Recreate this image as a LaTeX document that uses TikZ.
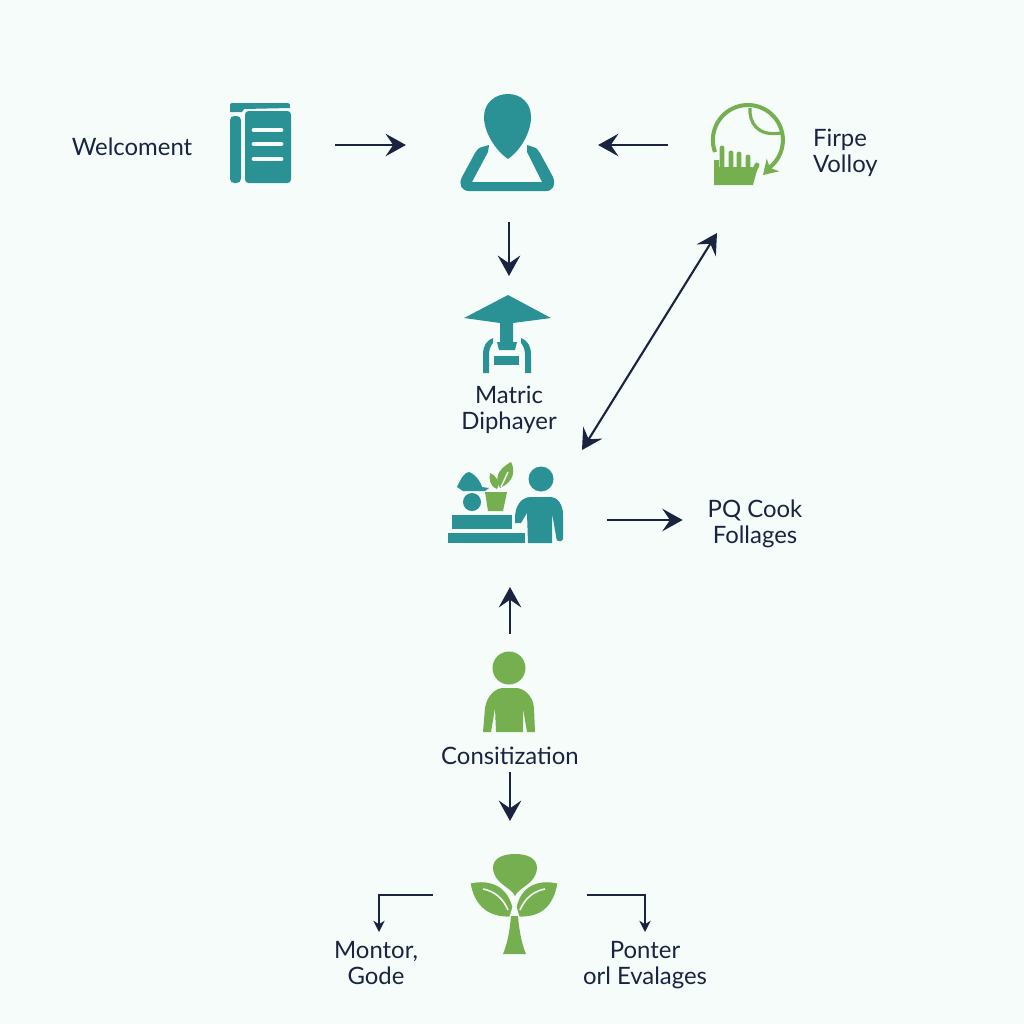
\documentclass[tikz,border=0pt]{standalone}
\usepackage{fontspec}
\setmainfont{Lato}
\usetikzlibrary{arrows.meta}
\definecolor{paper}{HTML}{F6FCFA}
\definecolor{teal}{HTML}{2A9295}
\definecolor{leaf}{HTML}{76AF4F}
\definecolor{ink}{HTML}{1A2340}
\tikzset{
	iconbox/.style={inner sep=0,outer sep=0},
	label/.style={inner sep=0,outer sep=0,text=ink,align=center,font=\fontsize{6.8}{7.45}\selectfont},
	arrow/.style={draw=ink,line width=.6pt,-{Stealth[length=5.8pt,width=6.4pt,inset=2.2pt]}},
	smallarrow/.style={draw=ink,line width=.5pt,-{Stealth[length=3.2pt,width=3.2pt,inset=1pt]}},
	twoway/.style={draw=ink,line width=.6pt,{Stealth[length=5.8pt,width=6.4pt,inset=2.2pt]}-{Stealth[length=5.8pt,width=6.4pt,inset=2.2pt]}}
}
\begin{document}
\begin{tikzpicture}[x=0.01cm,y=-0.01cm]
	\fill[paper] (0,0) rectangle (1024,1024);
	\useasboundingbox (0,0) rectangle (1024,1024);

	\node[iconbox,minimum width=.61cm,minimum height=.8cm] (book) at (260.5,145) {};
	\node[iconbox,minimum width=.94cm,minimum height=.98cm] (person) at (507,145) {};
	\node[iconbox,minimum width=.72cm,minimum height=.82cm] (ball) at (750,145) {};
	\node[iconbox,minimum width=.88cm,minimum height=.78cm] (hat) at (509,334) {};
	\node[iconbox,minimum width=1.16cm,minimum height=.82cm] (gardener) at (506,520) {};
	\node[iconbox,minimum width=.54cm,minimum height=.8cm] (helper) at (510,692) {};
	\node[iconbox,minimum width=.88cm,minimum height=.2cm] (tree) at (514,895) {};

	\node[label] (welcome) at (132,147) {Welcoment};
	\node[label,align=left,anchor=west] (firpe) at (813,153) {Firpe\\Volloy};
	\node[label] (matric) at (509,410) {Matric\\Diphayer};
	\node[label] (cook) at (755,524) {PQ Cook\\Follages};
	\node[label] (consit) at (510,756) {Consitization};
	\node[label] (montor) at (376,963) {Montor,\\Gode};
	\node[label] (ponter) at (645,965) {Ponter\\orl Evalages};

	\coordinate (diagLow) at (582,450);
	\coordinate (diagHigh) at (717,233);
	\coordinate (montorTop) at (379,932);
	\coordinate (ponterTop) at (645,932);

	\draw[arrow,shorten <=.44cm,shorten >=.54cm] (book.east) -- (person.west);
	\draw[arrow,shorten <=.46cm,shorten >=.44cm] (ball.west) -- (person.east);
	\draw[arrow,shorten <=.28cm,shorten >=.19cm] (person.south -| hat.north) -- (hat.north);
	\draw[arrow,shorten <=.43cm,shorten >=.25cm] (gardener.east) -- (cook.west |- gardener.east);
	\draw[arrow,shorten <=.18cm,shorten >=.26cm] (helper.north) -- (helper.north |- gardener.south);
	\draw[arrow,shorten <=.07cm,shorten >=.64cm] (consit.south) -- (consit.south |- tree.north);
	\draw[twoway] (diagLow) -- (diagHigh);
	\draw[smallarrow,shorten <=.37cm] (tree.west) -| (montorTop);
	\draw[smallarrow,shorten <=.29cm] (tree.east) -| (ponterTop);

	\fill[teal] (230,112) -- (230,105) .. controls (230,104) and (231,103) .. (232,103) -- (288,103) .. controls (290,103) and (290,105) .. (290,108) -- (244,109) -- (242,112) -- cycle;
	\fill[teal,rounded corners=1.2pt] (230,116) rectangle (241,183);
	\fill[teal,rounded corners=1pt] (245,111) rectangle (291,183);
	\draw[paper,line width=1.4pt,line cap=round] (254,130) -- (281,130) (254,144) -- (281,144) (254,159) -- (281,159);

	\fill[teal] (508,159) .. controls (495,150) and (484,132) .. (484,117) .. controls (484,103) and (495,94) .. (508,94) .. controls (521,94) and (531,103) .. (531,117) .. controls (531,132) and (521,150) .. (508,159) -- cycle;
	\fill[teal] (489,145) -- (482,147) .. controls (478,148) and (477,150) .. (475,153) -- (462,177) .. controls (458,185) and (462,191) .. (469,191) -- (546,191) .. controls (553,191) and (556,185) .. (553,177) -- (540,153) .. controls (538,150) and (537,148) .. (533,147) -- (527,145) -- (527,152) -- (542,182) -- (472,182) -- (488,152) -- cycle;

	\draw[leaf,line width=1.15pt] (715,152) arc[start angle=160,end angle=420,radius=35];
	\draw[leaf,line width=1.1pt,-{Stealth[length=4pt,width=5pt,inset=1.2pt]}] (770,168) -- (763,175);
	\draw[leaf,line width=.9pt] (750,108) .. controls (749,122) and (757,137) .. (781,133);
	\fill[leaf] (714,160) -- (719,160) -- (719,167) -- (752,167) -- (757,170) -- (753,185) -- (714,185) -- cycle;
	\draw[leaf,line width=1.4pt,line cap=round] (722,170) -- (722,148) (731,170) -- (731,153) (739,170) -- (739,154) (748,170) -- (748,157) (752,175) -- (757,165);

	\fill[teal] (508,295) -- (551,318) -- (513,323) -- (513,342) -- (517,342) -- (515,350) -- (499,350) -- (497,342) -- (500,342) -- (500,323) -- (464,318) -- cycle;
	\fill[teal] (494,356) rectangle (519,365);
	\fill[teal] (493,338) .. controls (486,341) and (483,346) .. (483,355) -- (483,373) -- (489,373) -- (489,354) .. controls (489,350) and (491,345) .. (493,343) -- cycle;
	\fill[teal] (521,338) .. controls (528,341) and (531,346) .. (531,355) -- (531,373) -- (525,373) -- (525,354) .. controls (525,350) and (523,345) .. (521,343) -- cycle;

	\fill[teal] (541,479) circle (12.5);
	\fill[teal] (528,543) -- (552,543) -- (552,513) -- (556.5,539) .. controls (557,542) and (562,542) .. (563,539) -- (563,515) .. controls (563,505) and (558,497) .. (550,497) -- (531,497) .. controls (522,497) and (515,505) .. (515,518) -- (515,523) -- (521,523) -- (527,513) -- cycle;
	\fill[teal] (452,515) rectangle (512,529);
	\fill[teal] (448,533) rectangle (525,543);
	\fill[teal] (472,502) circle (9);
	\fill[teal] (457,487) .. controls (461,478) and (465,472) .. (469,472) .. controls (475,474) and (481,482) .. (482,487) -- (489,488) -- (485,491) -- (463,491) -- cycle;
	\fill[leaf] (485,492) -- (507,492) -- (503,511) -- (488,511) -- cycle;
	\fill[leaf] (500,488) .. controls (495,480) and (496,470) .. (511,462) .. controls (516,472) and (513,482) .. (500,488) -- cycle;
	\fill[leaf] (497,489) .. controls (489,486) and (489,478) .. (490,473) .. controls (496,475) and (501,483) .. (497,489) -- cycle;
	\draw[paper,line width=.4pt] (501,487) -- (508,472);

	\fill[leaf] (509,668) circle (16.5);
	\fill[leaf] (483,732) -- (485,708) .. controls (487,695) and (496,688) .. (503,688) -- (516,688) .. controls (523,688) and (533,695) .. (534,708) -- (535,732) -- (527,732) -- (523,708) -- (523,732) -- (496,732) -- (495,708) -- (491,732) -- cycle;

	\fill[leaf] (515,896) .. controls (511,887) and (494,884) .. (493,868) .. controls (493,858) and (503,854) .. (515,854) .. controls (527,854) and (537,858) .. (537,868) .. controls (536,884) and (519,887) .. (515,896) -- cycle;
	\fill[leaf,draw=paper,line width=.3pt] (470,883) .. controls (483,880) and (506,880) .. (513,907) -- (510,917) .. controls (490,918) and (474,908) .. (470,883) -- cycle;
	\fill[leaf,draw=paper,line width=.3pt] (558,883) .. controls (545,880) and (522,880) .. (516,907) -- (519,917) .. controls (540,918) and (554,908) .. (558,883) -- cycle;
	\fill[leaf] (511,916) -- (518,916) .. controls (519,930) and (522,945) .. (526,954) -- (503,954) .. controls (507,945) and (510,930) .. (511,916) -- cycle;
	\draw[paper,line width=.45pt] (483,889) .. controls (494,891) and (503,898) .. (508,910);
	\draw[paper,line width=.45pt] (545,889) .. controls (534,891) and (525,898) .. (520,910);
\end{tikzpicture}
\end{document}
